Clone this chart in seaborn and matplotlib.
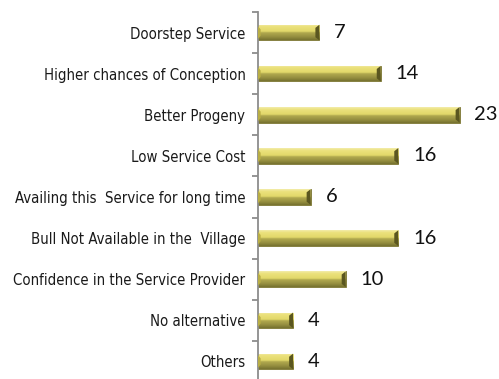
import numpy as np
import pandas as pd
import matplotlib
matplotlib.use("Agg")
import matplotlib.pyplot as plt
import seaborn as sns
from matplotlib.colors import LinearSegmentedColormap
from matplotlib.ticker import FixedLocator

categories = [
    "Doorstep Service",
    "Higher chances of Conception",
    "Better Progeny",
    "Low Service Cost",
    "Availing this  Service for long time",
    "Bull Not Available in the  Village",
    "Confidence in the Service Provider",
    "No alternative",
    "Others",
]
values = [7, 14, 23, 16, 6, 16, 10, 4, 4]

df = pd.DataFrame({"reason": categories, "count": values})

sns.set_style("white")
plt.rcParams["font.family"] = ["Liberation Sans Narrow", "DejaVu Sans"]
plt.rcParams["font.stretch"] = "condensed"

fig = plt.figure(figsize=(4.99, 3.79), dpi=100)
ax = fig.add_axes([258 / 499, -3 / 379, 241 / 499, 370 / 379])

sns.barplot(data=df, y="reason", x="count", orient="h", order=categories,
            color="#d6cd66", edgecolor="#77722f", linewidth=0.6,
            width=0.38, ax=ax, zorder=2)

# bevelled gold fill: vertical gradient clipped to each bar
cmap = LinearSegmentedColormap.from_list(
    "gold",
    [(0.0, "#f3ecaa"), (0.15, "#ebe17c"), (0.45, "#e2d86a"),
     (0.55, "#b0a84e"), (0.8, "#958f40"), (1.0, "#77722f")])
grad = np.linspace(0, 1, 64).reshape(-1, 1)
for patch in ax.patches:
    x0, y0 = patch.get_x(), patch.get_y()
    w, h = patch.get_width(), patch.get_height()
    im = ax.imshow(grad, cmap=cmap, aspect="auto",
                   extent=(x0, x0 + w, y0 + h, y0), zorder=2.5)
    im.set_clip_path(patch)
    # darker right-hand end cap
    cap = min(0.45, w * 0.12)
    ax.fill([x0 + w - cap, x0 + w, x0 + w, x0 + w - cap],
            [y0 + h * 0.2, y0, y0 + h, y0 + h * 0.8],
            color="#5a5620", zorder=2.6, lw=0)
    # small bevel on the left end
    lcap = min(0.3, w * 0.08)
    ax.fill([x0, x0 + lcap, x0 + lcap, x0],
            [y0 + h * 0.1, y0 + h * 0.3, y0 + h * 0.7, y0 + h * 0.9],
            color="#b9ae45", zorder=2.6, lw=0)

for i, v in enumerate(values):
    ax.text(v + 1.7, i, str(v), va="center", ha="left",
            fontsize=14.5, family=["Lato", "DejaVu Sans"], stretch="normal",
            color="#111111")

ax.set_xlim(0, 27.5)
ax.set_ylim(8.5, -0.5)
ax.set_xlabel("")
ax.set_ylabel("")
ax.set_xticks([])

for s in ["top", "right", "bottom"]:
    ax.spines[s].set_visible(False)
ax.spines["left"].set_color("#8c8c8c")
ax.spines["left"].set_linewidth(1.3)

ax.tick_params(axis="y", which="major", length=0, pad=9,
               labelsize=10.7, labelcolor="#1a1a1a")
ax.yaxis.set_minor_locator(FixedLocator(np.arange(-0.5, 9, 1)))
ax.tick_params(axis="y", which="minor", length=4.5, width=1.3,
               color="#8c8c8c", direction="out", left=True)

fig.savefig("out.png", dpi=100)
